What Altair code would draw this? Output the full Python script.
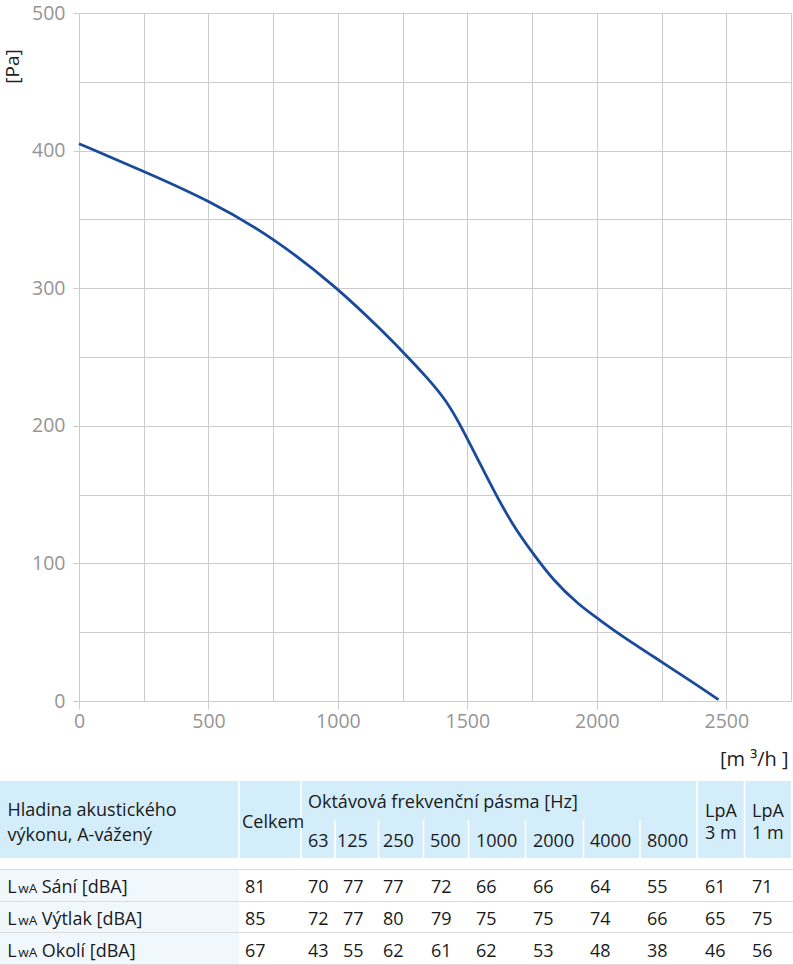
import altair as alt
import pandas as pd

# ---------------- data ----------------
flow = [0, 250, 500, 750, 1000, 1160, 1250, 1350, 1420, 1475, 1550, 1610, 1675,
        1750, 1830, 1930, 2000, 2090, 2250, 2400, 2470]
pressure = [405, 385, 364, 337, 300, 271, 254, 234, 218, 200, 172, 150, 128,
            108, 88, 70, 60.5, 48, 28.5, 10, 1]

row_labels = ["Sání [dBA]", "Výtlak [dBA]", "Okolí [dBA]"]
octaves = ["63", "125", "250", "500", "1000", "2000", "4000", "8000"]
sani = [81, 70, 77, 77, 72, 66, 66, 64, 55, 61, 71]
vytlak = [85, 72, 77, 80, 79, 75, 75, 74, 66, 65, 75]
okoli = [67, 43, 55, 62, 61, 62, 53, 48, 38, 46, 56]
rows = [sani, vytlak, okoli]

# ---------------- layout (page pixels) ----------------
PW, PH = 793, 965
LEFT, TOP = 79, 13
W, H = 712, 688
FONT = "Open Sans"
TXT = "#1a1a1a"

value_x = [245, 308, 343, 383, 431, 476, 533, 590, 647, 705, 752]
octave_x = [308, 337, 383, 430, 476, 533, 590, 647]
row_base = [893, 925, 957]

px_x = alt.Scale(domain=[0, PW], range=[-LEFT, PW - LEFT])
px_y = alt.Scale(domain=[0, PH], range=[-TOP, PH - TOP])

# ---------------- curve ----------------
curve = pd.DataFrame({"q": flow, "p": pressure})

x_ticks = list(range(0, 2751, 250))
y_ticks = list(range(0, 501, 50))

line = alt.Chart(curve).mark_line(
    interpolate="basis", color="#1a4b9b", strokeWidth=2.8
).encode(
    x=alt.X("q:Q",
            scale=alt.Scale(domain=[0, 2750], nice=False, zero=False),
            axis=alt.Axis(
                values=x_ticks, format="d",
                labelExpr="datum.value % 500 === 0 ? datum.label : ''",
                grid=True, gridColor="#cccccc", gridWidth=1,
                domain=False,
                tickColor={"condition": {"test": "datum.value % 500 === 0", "value": "#cccccc"},
                           "value": "transparent"},
                tickSize=8, labelPadding=3,
                labelFont=FONT, labelFontSize=19.5, labelColor="#959595",
                labelFlush=False, labelOverlap=False, labelBound=False,
                title="[m ³/h ]", titleFont=FONT, titleFontSize=20,
                titleFontWeight="normal", titleColor="#222222",
                titleAlign="right", titleBaseline="middle",
                titleX=709, titleY=58)),
    y=alt.Y("p:Q",
            scale=alt.Scale(domain=[0, 500], nice=False, zero=False),
            axis=alt.Axis(
                values=y_ticks, format="d",
                labelExpr="datum.value % 100 === 0 ? datum.label : ''",
                grid=True, gridColor="#cccccc", gridWidth=1,
                domain=False,
                tickColor={"condition": {"test": "datum.value % 100 === 0", "value": "#cccccc"},
                           "value": "transparent"},
                tickSize=6, labelPadding=8,
                labelFont=FONT, labelFontSize=19.5, labelColor="#959595",
                labelFlush=False, labelOverlap=False, labelBound=False,
                title="[Pa]", titleFont=FONT, titleFontSize=19,
                titleFontWeight="normal", titleColor="#222222",
                titleAngle=270, titleAlign="center", titleBaseline="middle",
                titleX=-67, titleY=53)),
)

# ---------------- table ----------------
rects = pd.DataFrame([
    {"x": 0, "x2": 791, "y": 781, "y2": 858, "c": "#d4edfb"},
    {"x": 0, "x2": 239, "y": 869, "y2": 965, "c": "#f0f8fe"},
])
rect_layer = alt.Chart(rects).mark_rect().encode(
    x=alt.X("x:Q", scale=px_x, axis=None), x2="x2:Q",
    y=alt.Y("y:Q", scale=px_y, axis=None), y2="y2:Q",
    color=alt.Color("c:N", scale=None),
)

# white separators in header
seps = pd.DataFrame(
    [{"x": v, "y": 781, "y2": 858} for v in [239, 301, 697, 744.5]] +
    [{"x": v, "y": 820, "y2": 858} for v in [335, 378.5, 423.5, 468.5, 525.5, 583.5, 640]]
)
sep_layer = alt.Chart(seps).mark_rule(color="white", strokeWidth=1.6).encode(
    x=alt.X("x:Q", scale=px_x, axis=None),
    y=alt.Y("y:Q", scale=px_y, axis=None), y2="y2:Q",
)

# gray horizontal row lines
hl = pd.DataFrame([{"x": 0, "x2": 793, "y": v} for v in [869.5, 901.5, 932.5, 964.5]])
hl_layer = alt.Chart(hl).mark_rule(color="#dcdcdc", strokeWidth=1.2).encode(
    x=alt.X("x:Q", scale=px_x, axis=None), x2="x2:Q",
    y=alt.Y("y:Q", scale=px_y, axis=None),
)

texts = []
texts.append({"t": "Hladina akustického", "x": 7.5, "y": 816, "s": 18})
texts.append({"t": "výkonu, A-vážený", "x": 7.5, "y": 840.5, "s": 18})
texts.append({"t": "Celkem", "x": 242, "y": 827.5, "s": 18})
texts.append({"t": "Oktávová frekvenční pásma [Hz]", "x": 308, "y": 807.5, "s": 18})
for lab, xx in zip(octaves, octave_x):
    texts.append({"t": lab, "x": xx, "y": 846.5, "s": 18})
for xx, dist in zip([705, 752], ["3 m", "1 m"]):
    texts.append({"t": "LpA", "x": xx, "y": 816.5, "s": 18})
    texts.append({"t": dist, "x": xx, "y": 838.5, "s": 18})
for r, (lab, vals) in enumerate(zip(row_labels, rows)):
    yb = row_base[r]
    texts.append({"t": "L", "x": 7.3, "y": yb, "s": 18})
    texts.append({"t": "wA", "x": 18.3, "y": yb, "s": 13.5})
    texts.append({"t": lab, "x": 41.7, "y": yb, "s": 18})
    for xx, v in zip(value_x, vals):
        texts.append({"t": str(v), "x": xx, "y": yb, "s": 18})
tdf = pd.DataFrame(texts)

text_layer = alt.Chart(tdf).mark_text(
    align="left", baseline="alphabetic", font=FONT, color=TXT
).encode(
    x=alt.X("x:Q", scale=px_x, axis=None),
    y=alt.Y("y:Q", scale=px_y, axis=None),
    text="t:N",
    size=alt.Size("s:Q", scale=None, legend=None),
)

chart = alt.layer(line, rect_layer, sep_layer, hl_layer, text_layer).resolve_scale(
    x="independent", y="independent", size="independent", color="independent"
).properties(
    width=W, height=H,
    autosize=alt.AutoSizeParams(type="none"),
    padding={"left": LEFT, "top": TOP, "right": PW - LEFT - W, "bottom": PH - TOP - H},
).configure_view(stroke=None).configure(background="white")

chart.save("out.html", embed_options={"renderer": "svg", "actions": False})
